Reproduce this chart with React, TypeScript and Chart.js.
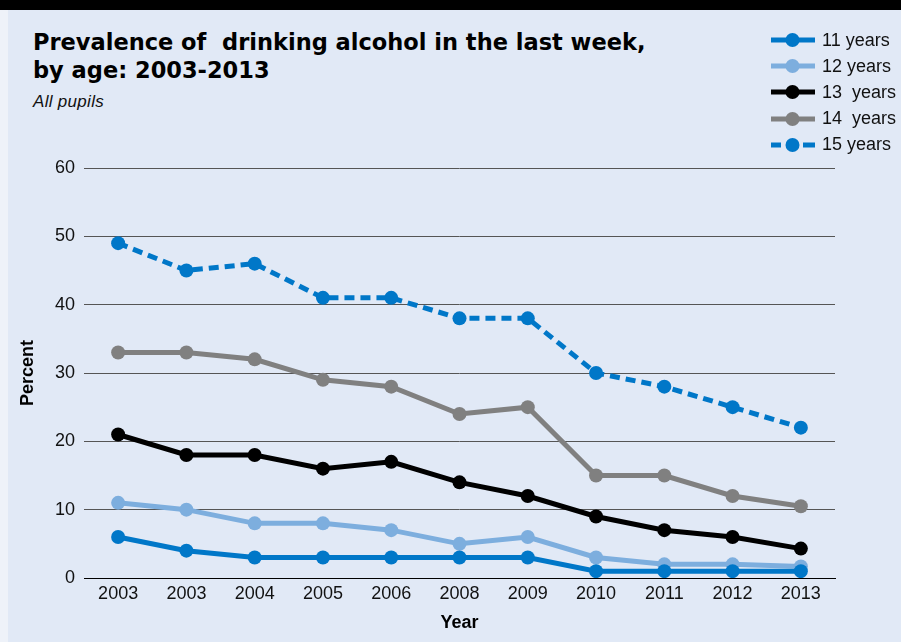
import React, { useEffect, useRef } from 'react';
import { Chart, registerables } from 'chart.js';

Chart.register(...registerables);

const categories = ['2003', '2003', '2004', '2005', '2006', '2008', '2009', '2010', '2011', '2012', '2013'];
const age11 = [6, 4, 3, 3, 3, 3, 3, 1, 1, 1, 1];
const age12 = [11, 10, 8, 8, 7, 5, 6, 3, 2, 2, 1.7];
const age13 = [21, 18, 18, 16, 17, 14, 12, 9, 7, 6, 4.3];
const age14 = [33, 33, 32, 29, 28, 24, 25, 15, 15, 12, 10.5];
const age15 = [49, 45, 46, 41, 41, 38, 38, 30, 28, 25, 22];
const seriesLabels = ['11 years', '12 years', '13  years', '14  years', '15 years'];
const yTicks = [0, 10, 20, 30, 40, 50, 60];

const FONT = '"Liberation Sans", Arial, Helvetica, sans-serif';
const TITLE_FONT = '"DejaVu Sans", "Liberation Sans", Arial, sans-serif';
const colors = ['#0077c8', '#7daede', '#000000', '#808080', '#0077c8'];
const dashed = [false, false, false, false, true];

export default function App() {
  const ref = useRef<HTMLCanvasElement | null>(null);

  useEffect(() => {
    document.body.style.margin = '0';
    const series = [age11, age12, age13, age14, age15];
    const chart = new Chart(ref.current as HTMLCanvasElement, {
      type: 'line',
      data: {
        labels: categories,
        datasets: series.map((d, i) => ({
          label: seriesLabels[i],
          data: d,
          borderColor: colors[i],
          backgroundColor: colors[i],
          pointBackgroundColor: colors[i],
          pointBorderColor: colors[i],
          borderWidth: 5,
          borderDash: dashed[i] ? [10, 6] : [],
          pointRadius: 7,
          pointHoverRadius: 7,
          pointBorderWidth: 0,
          tension: 0,
          fill: false,
        })),
      },
      options: {
        responsive: false,
        animation: false,
        layout: { padding: { top: 168, right: 66, bottom: 0, left: 0 } },
        plugins: {
          legend: { display: false },
          tooltip: { enabled: false },
        },
        scales: {
          x: {
            offset: true,
            grid: { display: false, drawTicks: false },
            border: { display: true, color: '#000', width: 1 },
            ticks: { color: '#111', font: { size: 18, family: FONT }, padding: 5, autoSkip: false, maxRotation: 0 },
            title: {
              display: true,
              text: 'Year',
              color: '#000',
              font: { size: 18, weight: 'bold', family: FONT },
              padding: { top: 0, bottom: 8 },
            },
            afterFit: (s: any) => { s.height = 64; },
          },
          y: {
            min: 0,
            max: 60,
            afterBuildTicks: (s: any) => { s.ticks = yTicks.map((v) => ({ value: v })); },
            grid: {
              drawTicks: false,
              color: (ctx: any) => (ctx.tick && ctx.tick.value === 0 ? '#000' : '#555'),
              lineWidth: 1,
            },
            border: { display: false },
            ticks: { color: '#111', font: { size: 18, family: FONT }, padding: 9 },
            title: {
              display: true,
              text: 'Percent',
              color: '#000',
              font: { size: 18, weight: 'bold', family: FONT },
              padding: { top: 17, bottom: 0 },
            },
            afterFit: (s: any) => { s.width = 84; },
          },
        },
      },
    } as any);
    return () => chart.destroy();
  }, []);

  const legendTops = [40, 66, 92, 118.5, 144.5];

  return (
    <div style={{ position: 'absolute', left: 0, top: 0, width: 901, height: 642, overflow: 'hidden', background: '#eef2f9', fontFamily: FONT }}>
      <div style={{ position: 'absolute', left: 8, top: 0, width: 893, height: 642, background: '#e1e9f6' }} />
      <div style={{ position: 'absolute', left: 0, top: 0, width: 901, height: 10, background: '#000' }} />
      <div style={{ position: 'absolute', left: 33, top: 28, fontFamily: TITLE_FONT, fontSize: 22.5, lineHeight: '28px', fontWeight: 'bold', color: '#000', whiteSpace: 'pre' }}>
        {'Prevalence of  drinking alcohol in the last week,\nby age: 2003-2013'}
      </div>
      <div style={{ position: 'absolute', left: 33, top: 92, fontSize: 17, lineHeight: '20px', fontStyle: 'italic', color: '#111', whiteSpace: 'pre', letterSpacing: 0.3 }}>
        All pupils
      </div>
      <canvas ref={ref} width={901} height={642} style={{ position: 'absolute', left: 0, top: 0, width: 901, height: 642 }} />
      {seriesLabels.map((lab, i) => (
        <div key={i} style={{ position: 'absolute', left: 770, top: legendTops[i] - 10, height: 20, display: 'flex', alignItems: 'center' }}>
          <svg width={46} height={20} style={{ display: 'block' }}>
            {dashed[i] ? (
              <>
                <line x1={1} y1={10} x2={11} y2={10} stroke={colors[i]} strokeWidth={5} />
                <line x1={33} y1={10} x2={45} y2={10} stroke={colors[i]} strokeWidth={5} />
              </>
            ) : (
              <line x1={1} y1={10} x2={45} y2={10} stroke={colors[i]} strokeWidth={5} />
            )}
            <circle cx={22.5} cy={10} r={7} fill={colors[i]} />
          </svg>
          <span style={{ marginLeft: 6, fontSize: 18, color: '#111', whiteSpace: 'pre' }}>{lab}</span>
        </div>
      ))}
    </div>
  );
}
